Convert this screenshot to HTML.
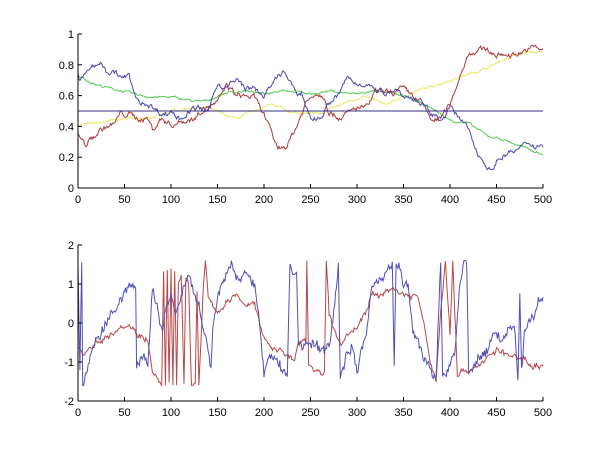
<!DOCTYPE html>
<html><head><meta charset="utf-8"><style>
html,body{margin:0;padding:0;background:#fff;}
svg{display:block;font-family:"Liberation Sans",sans-serif;font-size:11px;}
</style></head><body>
<svg id="s" width="600" height="450" xmlns="http://www.w3.org/2000/svg"></svg>
<script>
var S=document.getElementById('s'),out='';
var X0=78,X1=543;
function px(i){return X0+(X1-X0)*i/500;}
var seed=7;function rnd(){seed=(seed*16807)%2147483647;return seed/2147483647;}
function series(k,noise,rough){rough=rough||0;var pts=[];for(var j=0;j<k.length-1;j++){var a=k[j],b=k[j+1];for(var i=a[0];i<b[0];i++){var t=(i-a[0])/(b[0]-a[0]);pts.push([i,a[1]+(b[1]-a[1])*t]);}}pts.push([k[k.length-1][0],k[k.length-1][1]]);
var w=0;for(var i=0;i<pts.length;i++){w=w*0.7+(rnd()-0.5)*noise;pts[i][1]+=w+(rnd()-0.5)*rough;}return pts;}
function poly(p,fy,col,lo,hi){var s=p.map(function(q){var v=q[1];if(lo!==undefined){v=Math.max(lo,Math.min(hi,v));}return px(q[0]).toFixed(1)+','+fy(v).toFixed(1);}).join(' ');out+='<polyline fill="none" stroke="'+col+'" stroke-width="1" points="'+s+'"/>';}
function axes(yt,y0,y1,fy,labels){out+='<line x1="'+X0+'" y1="'+y1+'" x2="'+X1+'" y2="'+y1+'" stroke="#000"/><line x1="'+X0+'" y1="'+y0+'" x2="'+X0+'" y2="'+y1+'" stroke="#000"/>';
for(var i=0;i<=10;i++){var x=px(i*50);out+='<line x1="'+x+'" y1="'+y1+'" x2="'+x+'" y2="'+(y1-4)+'" stroke="#000"/><text x="'+x+'" y="'+(y1+15)+'" text-anchor="middle">'+(i*50)+'</text>';}
yt.forEach(function(v,i){var y=fy(v);out+='<line x1="'+X0+'" y1="'+y+'" x2="'+(X0+4)+'" y2="'+y+'" stroke="#000"/><text x="74" y="'+(y+4)+'" text-anchor="end">'+labels[i]+'</text>';});}
var fyT=function(v){return 188-154*v;};
var blue=[[0,.74],[2,.69],[10,.76],[15,.8],[20,.78],[25,.82],[30,.76],[40,.75],[45,.72],[55,.72],[60,.62],[65,.55],[75,.55],[85,.5],[95,.48],[100,.5],[110,.45],[120,.5],[130,.52],[140,.49],[150,.68],[160,.65],[170,.7],[180,.65],[190,.64],[200,.6],[210,.68],[220,.76],[225,.72],[235,.6],[240,.62],[250,.46],[260,.45],[270,.55],[280,.6],[290,.72],[300,.67],[310,.69],[320,.62],[330,.62],[340,.65],[350,.6],[360,.58],[370,.54],[380,.47],[390,.45],[400,.52],[410,.45],[420,.38],[430,.22],[440,.15],[445,.1],[450,.18],[460,.22],[470,.24],[480,.27],[485,.3],[490,.28],[500,.28]];
var red=[[0,.35],[8,.28],[15,.32],[25,.38],[40,.42],[45,.48],[55,.48],[65,.45],[75,.45],[80,.38],[90,.45],[100,.41],[110,.43],[125,.45],[135,.52],[150,.55],[160,.67],[170,.6],[180,.6],[190,.58],[200,.48],[210,.32],[215,.26],[225,.28],[235,.4],[245,.55],[255,.62],[265,.6],[270,.5],[280,.46],[290,.48],[300,.52],[310,.52],[320,.62],[340,.62],[350,.64],[360,.6],[370,.55],[380,.44],[390,.45],[400,.54],[410,.72],[420,.88],[440,.9],[450,.86],[470,.87],[490,.91],[500,.9]];
var green=[[0,.73],[20,.67],[40,.64],[60,.61],[80,.59],[100,.59],[130,.56],[140,.57],[160,.62],[180,.63],[200,.61],[220,.64],[250,.61],[270,.63],[300,.61],[320,.63],[340,.61],[360,.58],[380,.52],[400,.44],[420,.42],[440,.34],[460,.31],[480,.26],[500,.22]];
var yel=[[0,.41],[20,.42],[40,.44],[60,.46],[80,.45],[100,.5],[120,.52],[140,.52],[160,.47],[170,.45],[190,.5],[210,.55],[230,.48],[260,.49],[280,.53],[310,.6],[330,.54],[360,.62],[380,.66],[400,.7],[420,.74],[440,.78],[460,.84],[480,.88],[500,.88]];
poly(series(yel,.012),fyT,'#e8e860');
poly(series(green,.012),fyT,'#50cc50');
poly(series(red,.03),fyT,'#b03838');
poly(series(blue,.03),fyT,'#4848b0');
out+='<line x1="'+X0+'" y1="'+fyT(.5)+'" x2="'+X1+'" y2="'+fyT(.5)+'" stroke="#303080"/>';
axes([0,.2,.4,.6,.8,1],34,188,fyT,['0','0.2','0.4','0.6','0.8','1']);
var fyB=function(v){return 323-39*v;};
var bb=[[0,1.5],[2,-1.2],[4,1.5],[5,-1.6],[10,-1.2],[20,-.4],[30,0],[40,.3],[50,.8],[55,1],[62,.9],[63,-1.1],[70,-.8],[75,-1.2],[80,.8],[85,.5],[90,-.2],[95,.3],[100,.7],[105,.3],[110,.5],[115,1],[120,1.1],[125,.7],[130,.4],[135,-.2],[140,-.7],[143,-1.3],[145,-.2],[150,.7],[155,1],[165,1.5],[170,1.2],[175,1],[180,1.3],[190,1],[195,0],[200,-1.3],[205,-.9],[215,-1],[225,-1.3],[228,1.5],[232,1.2],[235,1.4],[237,-.6],[245,-.5],[255,-.6],[265,-.7],[270,-.5],[275,.2],[280,1.5],[282,-1.5],[290,-.7],[295,-.5],[300,-1.2],[305,-.7],[310,-.3],[315,.8],[320,1],[330,1.3],[338,1.6],[340,-1.2],[342,1.5],[345,1.5],[350,1],[355,.9],[360,-.2],[365,-.5],[370,-.8],[380,-1.2],[385,-1.5],[390,1.6],[392,-1.4],[395,-1.3],[400,-1],[405,-.8],[410,.9],[415,1.6],[418,1.4],[420,-1.3],[425,-1.2],[430,-.9],[440,-.7],[445,-.3],[455,-.4],[465,-.2],[470,-.2],[473,-1.5],[475,.8],[477,-1.2],[480,-.3],[485,.1],[490,.2],[495,.6],[500,.5]];
var rb=[[0,-.6],[5,-.8],[15,-.6],[25,-.4],[35,-.3],[45,-.05],[55,-.05],[65,-.3],[75,-.4],[80,-1.3],[90,-1.6],[92,1.3],[94,-1.6],[96,1.3],[98,-1.6],[100,1.3],[102,-1.6],[104,1.3],[106,-1.6],[108,1.0],[111,1.2],[114,-1.6],[116,1.2],[119,1.0],[122,-1.6],[126,-1.6],[128,0.8],[130,-1.6],[135,1],[137,1.6],[140,.6],[150,.3],[160,.5],[170,.7],[180,.5],[190,.5],[195,0],[205,-.6],[215,-.7],[225,-.8],[233,-1],[237,-.5],[245,-.5],[246,1.6],[248,-1],[255,-1.2],[265,-1.3],[267,1.6],[270,.2],[275,-.2],[283,-.5],[290,-.3],[300,-.1],[310,.3],[315,.7],[325,.7],[335,.9],[345,.8],[355,.7],[365,.7],[370,.2],[375,-.5],[380,-1.1],[385,-1.5],[390,.3],[395,1.6],[400,-.3],[403,1.6],[408,-1.3],[420,-1.2],[430,-1.1],[440,-.9],[450,-.7],[460,-.8],[470,-.9],[480,-.9],[490,-1.1],[500,-1.1]];
poly(series(rb,.1,.08),fyB,'#b84848',-1.6,1.6);
poly(series(bb,.14,.2),fyB,'#5050b8',-1.6,1.6);
axes([-2,-1,0,1,2],245,401,fyB,['-2','-1','0','1','2']);
S.innerHTML=out;
</script>
</body></html>
